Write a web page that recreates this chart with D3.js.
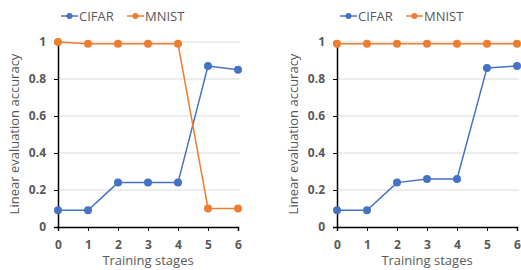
<!DOCTYPE html>
<html>
<head>
<meta charset="utf-8">
<script src="https://cdn.jsdelivr.net/npm/d3@7"></script>
<style>
  body { margin: 0; background: #fff; }
  text { font-family: "Open Sans", "Liberation Sans", sans-serif; fill: #595959; }
</style>
</head>
<body>
<div id="chart"></div>
<script>
const stages = [0, 1, 2, 3, 4, 5, 6];
const yTicks = [0, 0.2, 0.4, 0.6, 0.8, 1];
const seriesNames = ["CIFAR", "MNIST"];
const seriesColors = ["#4472C4", "#ED7D31"];

// left panel
const leftCifar = [0.09, 0.09, 0.24, 0.24, 0.24, 0.87, 0.85];
const leftMnist = [1.0, 0.99, 0.99, 0.99, 0.99, 0.10, 0.10];
// right panel
const rightCifar = [0.09, 0.09, 0.24, 0.26, 0.26, 0.86, 0.87];
const rightMnist = [0.99, 0.99, 0.99, 0.99, 0.99, 0.99, 0.99];

const width = 521, height = 270;
const svg = d3.select('#chart').append('svg')
    .attr('width', width)
    .attr('height', height);

function drawPanel(ox, cifar, mnist) {
    const g = svg.append('g').attr('transform', `translate(${ox},0)`);
    const x = d3.scaleLinear().domain([0, 6]).range([58, 238]);
    const y = d3.scaleLinear().domain([0, 1]).range([227, 42]);

    // gridlines
    g.selectAll('.grid').data(yTicks.filter(d => d > 0)).join('line')
        .attr('x1', 58).attr('x2', 240)
        .attr('y1', d => y(d)).attr('y2', d => y(d))
        .attr('stroke', '#d9d9d9').attr('stroke-width', 1);

    // y axis
    const yAxis = g.append('g').attr('transform', 'translate(58,0)')
        .call(d3.axisLeft(y).tickValues(yTicks).tickFormat(d3.format('')).tickSize(4).tickPadding(8));
    yAxis.select('.domain').attr('stroke', '#000').attr('stroke-width', 1.5);
    yAxis.selectAll('.tick line').attr('stroke', '#000');
    yAxis.selectAll('text').attr('font-size', 12).attr('font-weight', 'bold')
        .attr('fill', '#595959').attr('font-family', '"Open Sans", sans-serif');

    // x axis
    const xAxis = g.append('g').attr('transform', 'translate(0,227)')
        .call(d3.axisBottom(x).tickValues(stages).tickFormat(d3.format('d')).tickSizeOuter(0).tickSize(4).tickPadding(9));
    xAxis.select('.domain').attr('stroke', '#000').attr('stroke-width', 1.5);
    xAxis.selectAll('.tick line').attr('stroke', '#000');
    xAxis.selectAll('text').attr('font-size', 12).attr('font-weight', 'bold')
        .attr('fill', '#595959').attr('font-family', '"Open Sans", sans-serif');

    // axis titles
    g.append('text')
        .attr('x', 148).attr('y', 265)
        .attr('text-anchor', 'middle')
        .attr('font-size', 13)
        .text('Training stages');
    g.append('text')
        .attr('transform', `translate(19,134) rotate(-90)`)
        .attr('text-anchor', 'middle')
        .attr('font-size', 13)
        .text('Linear evaluation accuracy');

    const line = d3.line().x((d, i) => x(stages[i])).y(d => y(d));
    [cifar, mnist].forEach((vals, k) => {
        g.append('path')
            .attr('d', line(vals))
            .attr('fill', 'none')
            .attr('stroke', seriesColors[k])
            .attr('stroke-width', 1.5);
        g.selectAll('.pt' + k).data(vals).join('circle')
            .attr('cx', (d, i) => x(stages[i]))
            .attr('cy', d => y(d))
            .attr('r', 4)
            .attr('fill', seriesColors[k]);
    });

    // legend
    const leg = g.append('g').attr('transform', 'translate(61,16)');
    const legX = [0, 66];
    seriesNames.forEach((name, k) => {
        const lg = leg.append('g').attr('transform', `translate(${legX[k]},0)`);
        lg.append('line').attr('x1', 0).attr('x2', 17).attr('y1', 0).attr('y2', 0)
            .attr('stroke', seriesColors[k]).attr('stroke-width', 1.5);
        lg.append('circle').attr('cx', 8.5).attr('cy', 0).attr('r', 3).attr('fill', seriesColors[k]);
        lg.append('text').attr('x', 18).attr('y', 4.5).attr('font-size', 13).text(name);
    });
}

drawPanel(0, leftCifar, leftMnist);
drawPanel(279, rightCifar, rightMnist);
</script>
</body>
</html>
